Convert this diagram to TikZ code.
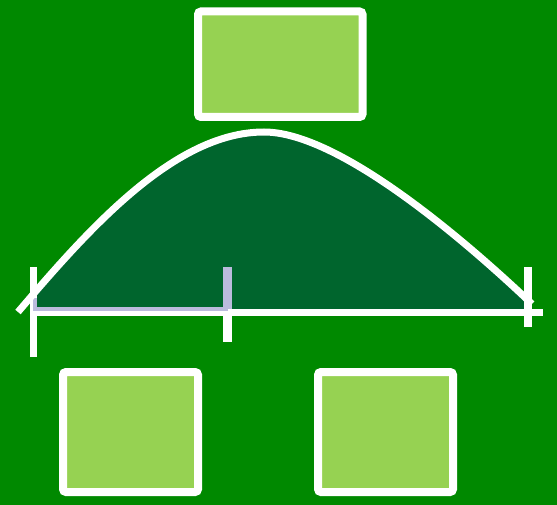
\documentclass[tikz,border=0pt]{standalone}
\definecolor{bggreen}{RGB}{0,137,0}
\definecolor{darkfill}{RGB}{0,101,45}
\definecolor{lightbox}{RGB}{150,210,82}
\definecolor{lavender}{RGB}{187,187,221}
\tikzset{
  boxstyle/.style={draw=white, fill=lightbox, line width=8pt, rounded corners=3pt, inner sep=0pt},
  whiteline/.style={draw=white, line width=7pt},
}
\begin{document}
\begin{tikzpicture}[x=1pt,y=-1pt]
\fill[bggreen] (0,0) rectangle (557,505);
\useasboundingbox (0,0) rectangle (557,505);
% boxes
\node[boxstyle, minimum width=164.5pt, minimum height=105.5pt] (top) at (280.25,64.25) {};
\node[boxstyle, minimum width=135pt, minimum height=120pt] (bl) at (130.5,432) {};
\node[boxstyle, minimum width=135pt, minimum height=120pt] (br) at (385.5,432) {};
% curve points
\coordinate (cL) at (18,312);
\coordinate (cP) at (264,132);
\coordinate (cR) at (532,304);
% filled area under curve
\begin{scope}
\clip (36,100) rectangle (540,310);
\fill[darkfill] (cL) .. controls (88,230) and (174,132) .. (cP) .. controls (338,132) and (462,237.5) .. (cR) -- (532,310) -- (18,310) -- cycle;
\end{scope}
% axis
\coordinate (axL) at (30,312.5);
\coordinate (axR) at (543,312.5);
\draw[whiteline] (axL) -- (axR);
% ticks
\coordinate (t1a) at (33.5,267);
\coordinate (t1b) at (33.5,357);
\coordinate (t2a) at (227.5,267);
\coordinate (t2m) at (227.5,309);
\coordinate (t2b) at (227.5,342);
\coordinate (t3a) at (528,267);
\coordinate (t3b) at (528,327);
\draw[whiteline] (t1a) -- (t1b);
\draw[white, line width=9pt] (t2m) -- (t2b);
\draw[white, line width=8pt] (t3a) -- (t3b);
% lavender highlight
\coordinate (lv0) at (35,298);
\coordinate (lv1) at (35,309);
\coordinate (lv2) at (227.5,309);
\draw[lavender, line width=4pt] (lv0) -- (lv1) -- (lv2);
\draw[lavender, line width=9pt] (t2a) -- (t2m);
% curve
\draw[white, line width=7pt] (cL) .. controls (88,230) and (174,132) .. (cP) .. controls (338,132) and (462,237.5) .. (cR);
\end{tikzpicture}
\end{document}
